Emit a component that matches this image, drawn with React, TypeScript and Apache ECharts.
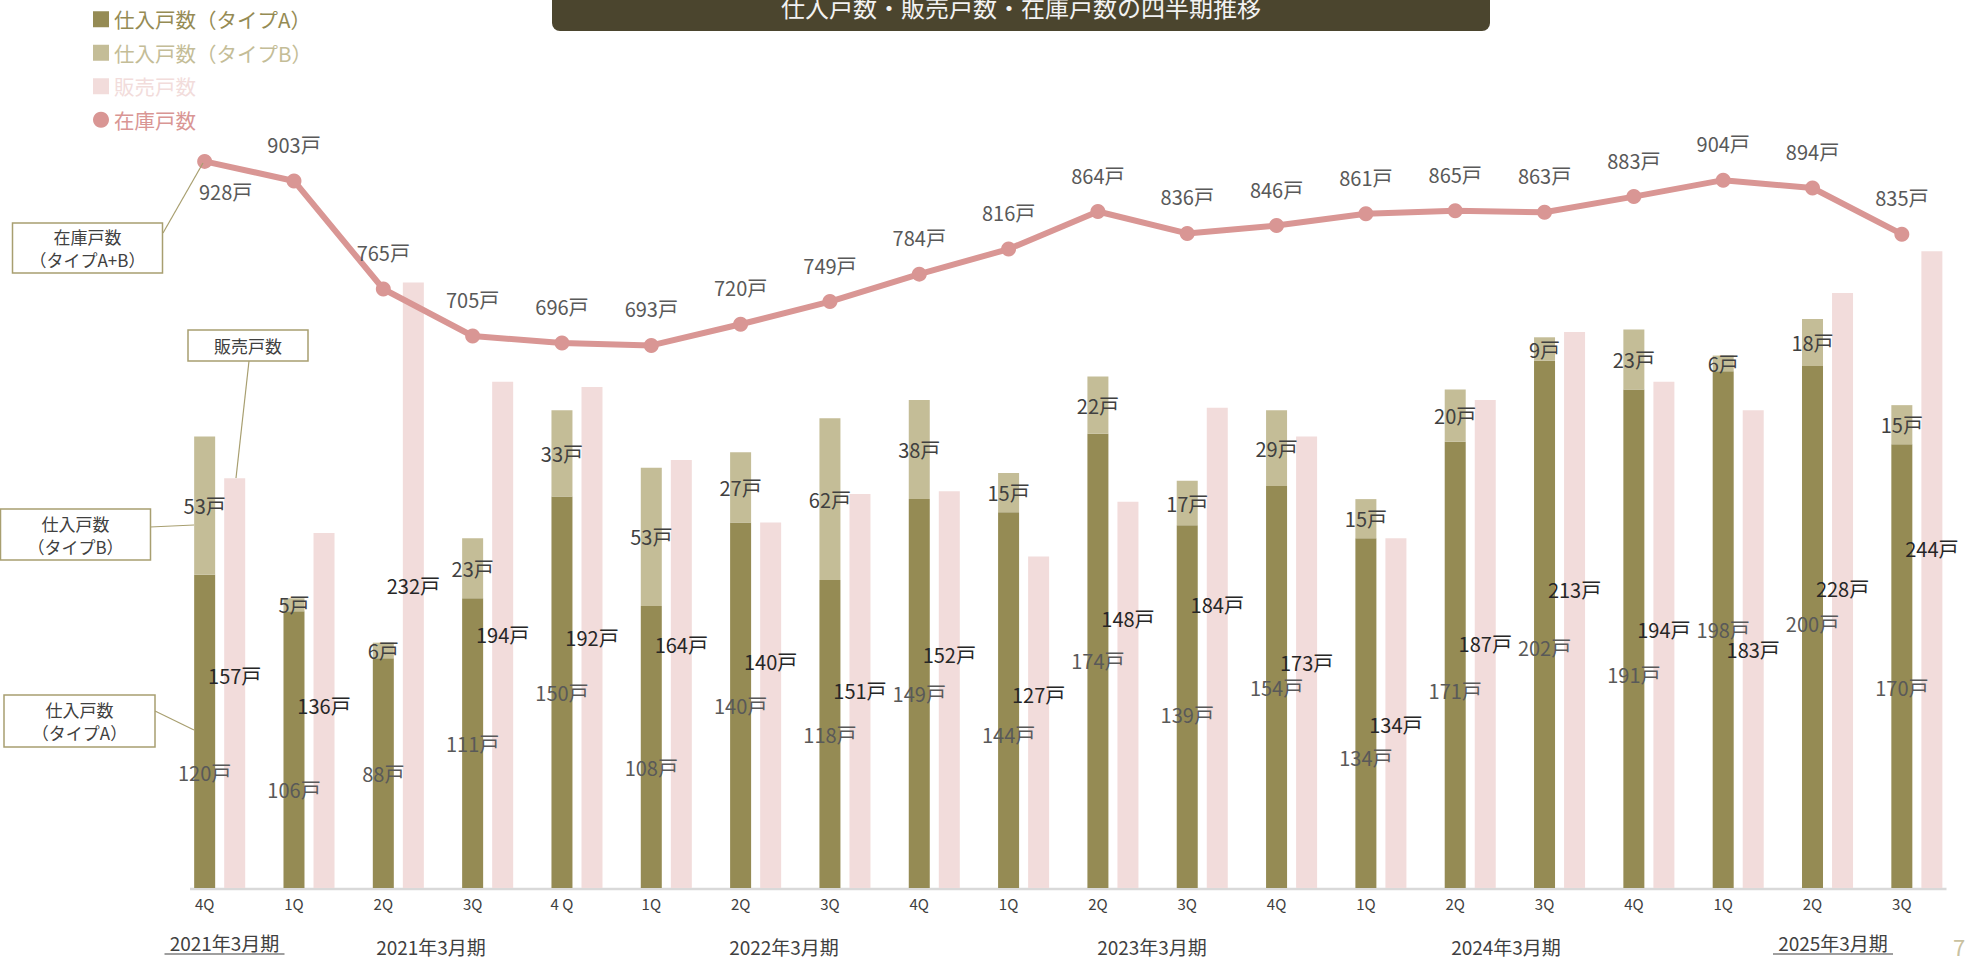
import React, { useEffect, useRef } from 'react';
import * as echarts from 'echarts';

// ---------- data ----------
const quarterLabels = ['4Q', '1Q', '2Q', '3Q', '4 Q', '1Q', '2Q', '3Q', '4Q', '1Q', '2Q', '3Q', '4Q', '1Q', '2Q', '3Q', '4Q', '1Q', '2Q', '3Q'];
const purchaseTypeA = [120, 106, 88, 111, 150, 108, 140, 118, 149, 144, 174, 139, 154, 134, 171, 202, 191, 198, 200, 170];
const purchaseTypeB = [53, 5, 6, 23, 33, 53, 27, 62, 38, 15, 22, 17, 29, 15, 20, 9, 23, 6, 18, 15];
const salesUnits = [157, 136, 232, 194, 192, 164, 140, 151, 152, 127, 148, 184, 173, 134, 187, 213, 194, 183, 228, 244];
const inventoryUnits = [928, 903, 765, 705, 696, 693, 720, 749, 784, 816, 864, 836, 846, 861, 865, 863, 883, 904, 894, 835];
const fiscalYearLabels = ['2021年3月期', '2021年3月期', '2022年3月期', '2023年3月期', '2024年3月期', '2025年3月期'];

const NAME_A = '仕入戸数（タイプA）';
const NAME_B = '仕入戸数（タイプB）';
const NAME_S = '販売戸数';
const NAME_L = '在庫戸数';
const TITLE = '仕入戸数・販売戸数・在庫戸数の四半期推移';

// ---------- layout / style (kept apart from the data) ----------
const typeALabelNudgeY = [41, 40, 0, 0, 0, 20, 0, 0, 0, 34, 0, 8, 0, 44, 26, 23, 36, 0, -4, 21];
const salesLabelNudgeY = [-8, -5, 0, 0, 0, -29, -44, 0, -35, -28, -76, -43, 0, 11, 0, -21, -5, 0, -2, -21];
const yearLabelX = [224.5, 431, 784, 1152, 1506, 1833];
const yearLabelY = [942, 946, 946, 946, 946, 942];
const yearLabelUnderlined = [true, false, false, false, false, true];

const FONT = '"Noto Sans CJK JP", "Noto Sans", sans-serif';
const C_A = '#958b54';
const C_B = '#c4bd97';
const C_S = '#f2dcdb';
const C_L = '#d99694';
const C_BOX = '#a89f70';

function calloutBox(x: number, y: number, w: number, h: number, lines: string[]) {
  const els: any[] = [
    {
      type: 'rect',
      shape: { x, y, width: w, height: h },
      style: { fill: '#ffffff', stroke: C_BOX, lineWidth: 1.5 },
      z: 100,
    },
  ];
  const step = 23;
  const y0 = y + h / 2 - ((lines.length - 1) * step) / 2;
  lines.forEach((t, i) => {
    els.push({
      type: 'text',
      x: x + w / 2,
      y: y0 + i * step,
      style: {
        text: t,
        fill: '#404040',
        font: `17px ${FONT}`,
        align: 'center',
        verticalAlign: 'middle',
      },
      z: 101,
    });
  });
  return els;
}

function connector(x1: number, y1: number, x2: number, y2: number) {
  return {
    type: 'line',
    shape: { x1, y1, x2, y2 },
    style: { stroke: C_BOX, lineWidth: 1.2 },
    z: 99,
  };
}

export default function App() {
  const ref = useRef<HTMLDivElement>(null);

  useEffect(() => {
    document.body.style.margin = '0';
    if (!ref.current) return;
    const chart = echarts.init(ref.current, undefined, { renderer: 'svg' });

    const barLabelBase = {
      show: true,
      position: 'inside',
      formatter: '{c}戸',
      fontSize: 20,
      fontFamily: FONT,
      textBorderWidth: 0,
    };

    const yearTexts: any[] = [];
    fiscalYearLabels.forEach((t, i) => {
      yearTexts.push({
        type: 'text',
        x: yearLabelX[i],
        y: yearLabelY[i],
        style: {
          text: t,
          fill: '#404040',
          font: `19px ${FONT}`,
          align: 'center',
          verticalAlign: 'middle',
        },
      });
      if (yearLabelUnderlined[i]) {
        yearTexts.push({
          type: 'line',
          shape: { x1: yearLabelX[i] - 60, y1: yearLabelY[i] + 12, x2: yearLabelX[i] + 60, y2: yearLabelY[i] + 12 },
          style: { stroke: '#404040', lineWidth: 1.2 },
        });
      }
    });

    const option: any = {
      animation: false,
      backgroundColor: '#ffffff',
      textStyle: { fontFamily: FONT },
      grid: { left: 160, right: 19.5, top: 105, bottom: 70, containLabel: false },
      legend: {
        orient: 'vertical',
        left: 93,
        top: 9,
        padding: 0,
        itemWidth: 16,
        itemHeight: 16,
        itemGap: 13,
        selectedMode: false,
        textStyle: { fontSize: 20.5, fontFamily: FONT },
        data: [
          { name: NAME_A, icon: 'rect', textStyle: { color: C_A } },
          { name: NAME_B, icon: 'rect', textStyle: { color: C_B } },
          { name: NAME_S, icon: 'rect', textStyle: { color: C_S } },
          { name: NAME_L, icon: 'circle', textStyle: { color: C_L } },
        ],
      },
      xAxis: {
        type: 'category',
        data: quarterLabels,
        boundaryGap: true,
        axisTick: { show: false },
        axisLine: { show: false },
        axisLabel: { color: '#404040', fontSize: 15, margin: 8, interval: 0, fontFamily: FONT },
        splitLine: { show: false },
      },
      yAxis: [
        { type: 'value', min: 0, max: 300, show: false, splitLine: { show: false } },
        { type: 'value', min: 0, max: 1000, show: false, splitLine: { show: false } },
      ],
      series: [
        {
          name: '_spacer',
          type: 'bar',
          data: quarterLabels.map(() => null),
          barWidth: 21,
          barGap: '43%',
          silent: true,
        },
        {
          name: NAME_A,
          type: 'bar',
          stack: 'purchase',
          barWidth: 21,
          barGap: '43%',
          itemStyle: { color: C_A },
          label: { ...barLabelBase, color: '#595959' },
          data: purchaseTypeA.map((v, i) => ({ value: v, label: { offset: [0, typeALabelNudgeY[i]] } })),
        },
        {
          name: NAME_B,
          type: 'bar',
          stack: 'purchase',
          barWidth: 21,
          barGap: '43%',
          itemStyle: { color: C_B },
          label: { ...barLabelBase, color: '#404040' },
          data: purchaseTypeB,
        },
        {
          name: NAME_S,
          type: 'bar',
          barWidth: 21,
          barGap: '43%',
          itemStyle: { color: C_S },
          label: { ...barLabelBase, color: '#262626' },
          data: salesUnits.map((v, i) => ({ value: v, label: { offset: [0, salesLabelNudgeY[i]] } })),
        },
        {
          name: NAME_L,
          type: 'line',
          yAxisIndex: 1,
          z: 5,
          symbol: 'circle',
          symbolSize: 15,
          lineStyle: { color: C_L, width: 6 },
          itemStyle: { color: C_L },
          label: {
            show: true,
            position: 'top',
            distance: 19,
            formatter: '{c}戸',
            color: '#595959',
            fontSize: 20,
            fontFamily: FONT,
          },
          data: inventoryUnits.map((v, i) =>
            i === 0 ? { value: v, label: { position: 'bottom', distance: 13, offset: [21, 0] } } : v
          ),
        },
      ],
      graphic: [
        {
          type: 'line',
          shape: { x1: 190, y1: 889, x2: 1946.5, y2: 889 },
          style: { stroke: '#d9d9d9', lineWidth: 2.5 },
          z: 0,
        },
        {
          type: 'rect',
          shape: { x: 552, y: -12, width: 938, height: 43, r: 8 },
          style: { fill: '#4b452e' },
        },
        {
          type: 'text',
          x: 1021,
          y: 6,
          style: {
            text: TITLE,
            fill: '#f2f2f2',
            font: `24px ${FONT}`,
            align: 'center',
            verticalAlign: 'middle',
          },
        },
        connector(163, 233, 203, 163),
        connector(249, 361, 236, 478),
        connector(150, 527, 194, 525),
        connector(155, 711, 194, 730),
        ...calloutBox(12.5, 223, 150, 50, ['在庫戸数', '（タイプA+B）']),
        ...calloutBox(188, 330, 120, 31, ['販売戸数']),
        ...calloutBox(0.5, 509, 150, 51, ['仕入戸数', '（タイプB）']),
        ...calloutBox(4, 695, 151, 52, ['仕入戸数', '（タイプA）']),
        ...yearTexts,
        {
          type: 'text',
          x: 1953,
          y: 946,
          style: {
            text: '7',
            fill: '#c9c1a0',
            font: `22px ${FONT}`,
            align: 'left',
            verticalAlign: 'middle',
          },
        },
      ],
    };

    chart.setOption(option);
    return () => {
      chart.dispose();
    };
  }, []);

  return (
    <div
      ref={ref}
      style={{ position: 'fixed', left: 0, top: 0, width: '1966px', height: '958px', background: '#fff' }}
    />
  );
}
